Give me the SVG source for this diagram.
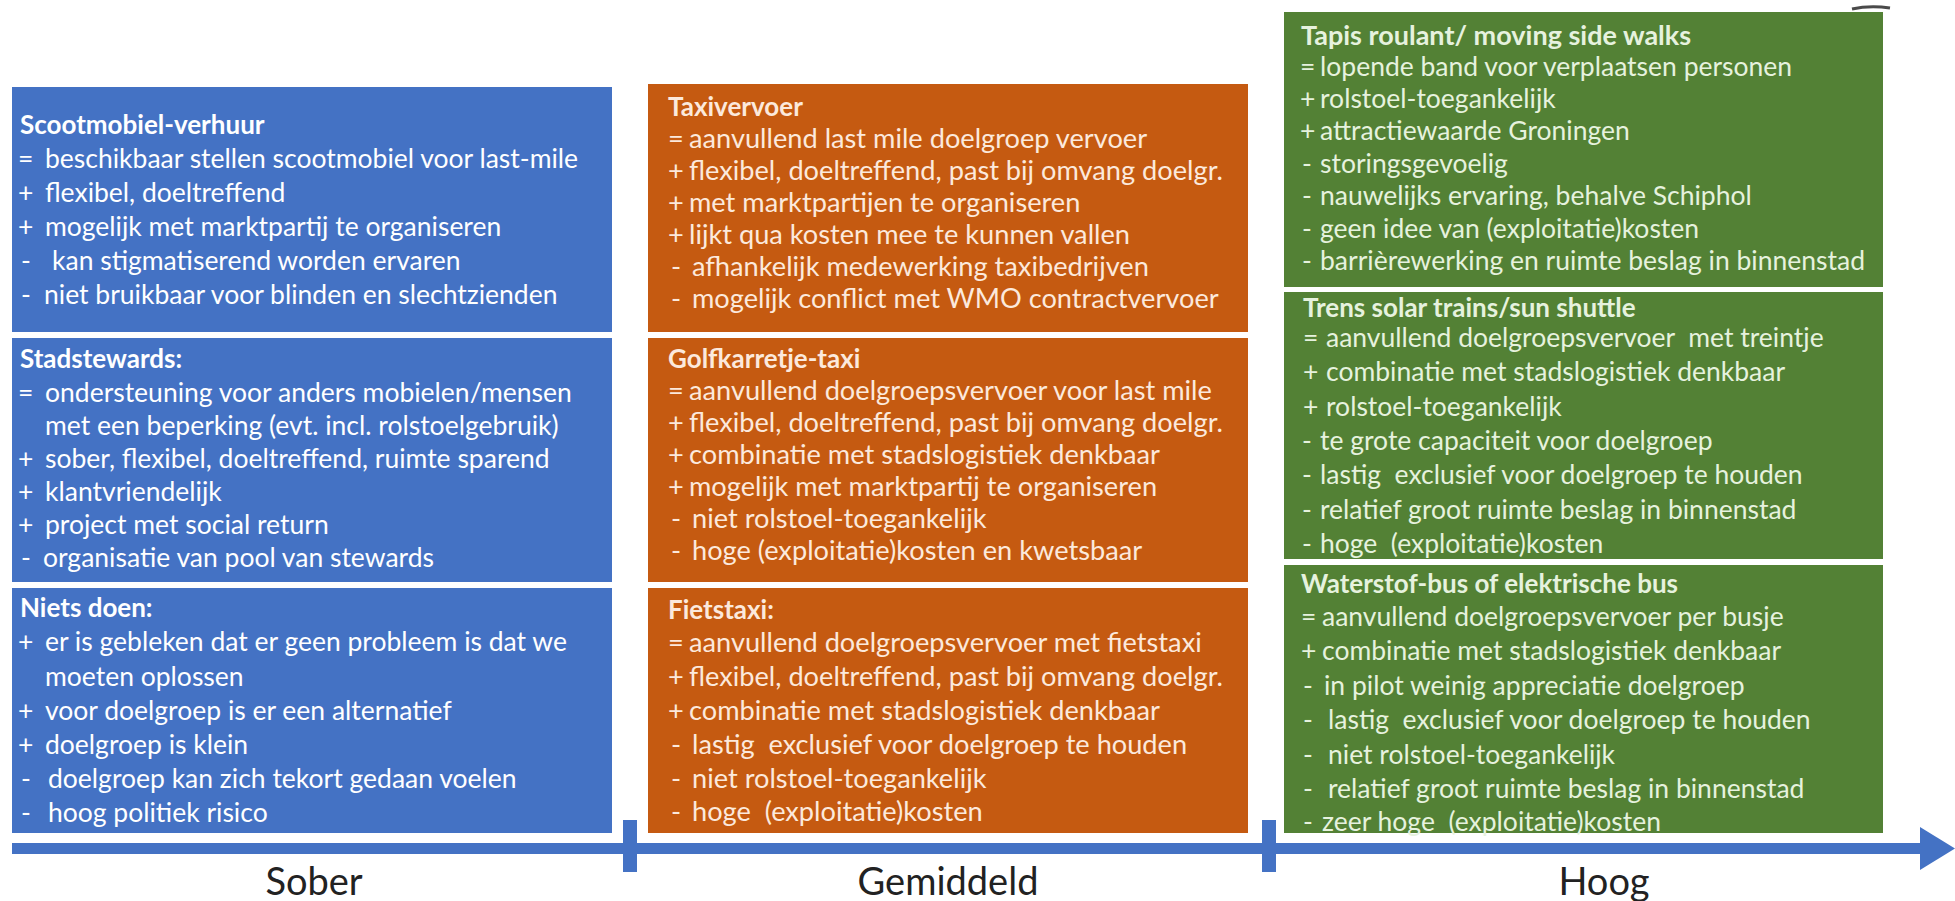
<svg xmlns="http://www.w3.org/2000/svg" width="1955" height="901" viewBox="0 0 1955 901">
<style>
  .bg{fill:#ffffff}
  .blue{fill:#4472C4}
  .orange{fill:#C55A11}
  .green{fill:#538135}
  text{font-family:Lato,"Liberation Sans",sans-serif;font-size:26.5px}
  .tb{fill:#ffffff}
  .to{fill:#FCE9DC;font-size:27.2px}
  .tg{fill:#E6F2DE}
  .g1{font-size:29px}
  .ti{font-weight:bold;font-size:26px}
  .g1 .ti{font-size:27px}
  .axis{fill:#4472C4}
  .lbl{font-family:Lato,"Liberation Sans",sans-serif;font-size:38px;fill:#222222;text-anchor:middle}
</style>
<rect class="bg" x="0" y="0" width="1955" height="901"/>

<g id="scootmobiel">
  <rect class="blue" x="12" y="87" width="600" height="245"/>
  <text class="tb"><tspan class="ti" x="20" y="134">Scootmobiel-verhuur</tspan></text>
  <text class="tb"><tspan x="18" y="168">=</tspan><tspan x="45" y="168">beschikbaar stellen scootmobiel voor last-mile</tspan></text>
  <text class="tb"><tspan x="18" y="202">+</tspan><tspan x="45" y="202">flexibel, doeltreffend</tspan></text>
  <text class="tb"><tspan x="18" y="236">+</tspan><tspan x="45" y="236">mogelijk met marktpartij te organiseren</tspan></text>
  <text class="tb"><tspan x="21" y="270">-</tspan><tspan x="52" y="270">kan stigmatiserend worden ervaren</tspan></text>
  <text class="tb"><tspan x="21" y="304">-</tspan><tspan x="44" y="304">niet bruikbaar voor blinden en slechtzienden</tspan></text>
</g>

<g id="stadstewards">
  <rect class="blue" x="12" y="338" width="600" height="244"/>
  <text class="tb"><tspan class="ti" x="20" y="368">Stadstewards:</tspan></text>
  <text class="tb"><tspan x="18" y="402">=</tspan><tspan x="45" y="402">ondersteuning voor anders mobielen/mensen</tspan></text>
  <text class="tb"><tspan x="45" y="435">met een beperking (evt. incl. rolstoelgebruik)</tspan></text>
  <text class="tb"><tspan x="18" y="468">+</tspan><tspan x="45" y="468">sober, flexibel, doeltreffend, ruimte sparend</tspan></text>
  <text class="tb"><tspan x="18" y="501">+</tspan><tspan x="45" y="501">klantvriendelijk</tspan></text>
  <text class="tb"><tspan x="18" y="534">+</tspan><tspan x="45" y="534">project met social return</tspan></text>
  <text class="tb"><tspan x="21" y="567">-</tspan><tspan x="43" y="567">organisatie van pool van stewards</tspan></text>
</g>

<g id="niets-doen">
  <rect class="blue" x="12" y="588" width="600" height="245"/>
  <text class="tb"><tspan class="ti" x="20" y="617">Niets doen:</tspan></text>
  <text class="tb"><tspan x="18" y="651">+</tspan><tspan x="45" y="651">er is gebleken dat er geen probleem is dat we</tspan></text>
  <text class="tb"><tspan x="45" y="686">moeten oplossen</tspan></text>
  <text class="tb"><tspan x="18" y="720">+</tspan><tspan x="45" y="720">voor doelgroep is er een alternatief</tspan></text>
  <text class="tb"><tspan x="18" y="754">+</tspan><tspan x="45" y="754">doelgroep is klein</tspan></text>
  <text class="tb"><tspan x="21" y="788">-</tspan><tspan x="48" y="788">doelgroep kan zich tekort gedaan voelen</tspan></text>
  <text class="tb"><tspan x="21" y="822">-</tspan><tspan x="48" y="822">hoog politiek risico</tspan></text>
</g>

<g id="taxivervoer">
  <rect class="orange" x="648" y="84" width="600" height="248"/>
  <text class="to"><tspan class="ti" x="668" y="116">Taxivervoer</tspan></text>
  <text class="to"><tspan x="668" y="148">=</tspan><tspan x="689" y="148">aanvullend last mile doelgroep vervoer</tspan></text>
  <text class="to"><tspan x="668" y="180">+</tspan><tspan x="689" y="180">flexibel, doeltreffend, past bij omvang doelgr.</tspan></text>
  <text class="to"><tspan x="668" y="212">+</tspan><tspan x="689" y="212">met marktpartijen te organiseren</tspan></text>
  <text class="to"><tspan x="668" y="244">+</tspan><tspan x="689" y="244">lijkt qua kosten mee te kunnen vallen</tspan></text>
  <text class="to"><tspan x="671" y="276">-</tspan><tspan x="692" y="276">afhankelijk medewerking taxibedrijven</tspan></text>
  <text class="to"><tspan x="671" y="308">-</tspan><tspan x="692" y="308">mogelijk conflict met WMO contractvervoer</tspan></text>
</g>

<g id="golfkarretje">
  <rect class="orange" x="648" y="338" width="600" height="244"/>
  <text class="to"><tspan class="ti" x="668" y="368">Golfkarretje-taxi</tspan></text>
  <text class="to"><tspan x="668" y="400">=</tspan><tspan x="689" y="400">aanvullend doelgroepsvervoer voor last mile</tspan></text>
  <text class="to"><tspan x="668" y="432">+</tspan><tspan x="689" y="432">flexibel, doeltreffend, past bij omvang doelgr.</tspan></text>
  <text class="to"><tspan x="668" y="464">+</tspan><tspan x="689" y="464">combinatie met stadslogistiek denkbaar</tspan></text>
  <text class="to"><tspan x="668" y="496">+</tspan><tspan x="689" y="496">mogelijk met marktpartij te organiseren</tspan></text>
  <text class="to"><tspan x="671" y="528">-</tspan><tspan x="692" y="528">niet rolstoel-toegankelijk</tspan></text>
  <text class="to"><tspan x="671" y="560">-</tspan><tspan x="692" y="560">hoge (exploitatie)kosten en kwetsbaar</tspan></text>
</g>

<g id="fietstaxi">
  <rect class="orange" x="648" y="588" width="600" height="245"/>
  <text class="to"><tspan class="ti" x="668" y="619">Fietstaxi:</tspan></text>
  <text class="to"><tspan x="668" y="652">=</tspan><tspan x="689" y="652">aanvullend doelgroepsvervoer met fietstaxi</tspan></text>
  <text class="to"><tspan x="668" y="686">+</tspan><tspan x="689" y="686">flexibel, doeltreffend, past bij omvang doelgr.</tspan></text>
  <text class="to"><tspan x="668" y="720">+</tspan><tspan x="689" y="720">combinatie met stadslogistiek denkbaar</tspan></text>
  <text class="to"><tspan x="671" y="754">-</tspan><tspan x="692" y="754">lastig&#160; exclusief voor doelgroep te houden</tspan></text>
  <text class="to"><tspan x="671" y="788">-</tspan><tspan x="692" y="788">niet rolstoel-toegankelijk</tspan></text>
  <text class="to"><tspan x="671" y="821">-</tspan><tspan x="692" y="821">hoge&#160; (exploitatie)kosten</tspan></text>
</g>

<g id="tapis-roulant">
  <rect class="green" x="1284" y="12" width="599" height="275"/>
  <g class="g1">
  <text class="tg"><tspan class="ti" x="1301" y="45">Tapis roulant/ moving side walks</tspan></text>
  <text class="tg"><tspan x="1300" y="76">=</tspan><tspan x="1320" y="76">lopende band voor verplaatsen personen</tspan></text>
  <text class="tg"><tspan x="1300" y="108">+</tspan><tspan x="1320" y="108">rolstoel-toegankelijk</tspan></text>
  <text class="tg"><tspan x="1300" y="140">+</tspan><tspan x="1320" y="140">attractiewaarde Groningen</tspan></text>
  <text class="tg"><tspan x="1302" y="173">-</tspan><tspan x="1320" y="173">storingsgevoelig</tspan></text>
  <text class="tg"><tspan x="1302" y="205">-</tspan><tspan x="1320" y="205">nauwelijks ervaring, behalve Schiphol</tspan></text>
  <text class="tg"><tspan x="1302" y="238">-</tspan><tspan x="1320" y="238">geen idee van (exploitatie)kosten</tspan></text>
  <text class="tg"><tspan x="1302" y="270">-</tspan><tspan x="1320" y="270">barrièrewerking en ruimte beslag in binnenstad</tspan></text>
  </g>
</g>

<g id="trens-solar">
  <rect class="green" x="1284" y="292" width="599" height="267"/>
  <text class="tg"><tspan class="ti" x="1303" y="317">Trens solar trains/sun shuttle</tspan></text>
  <text class="tg"><tspan x="1303" y="347">=</tspan><tspan x="1326" y="347">aanvullend doelgroepsvervoer&#160; met treintje</tspan></text>
  <text class="tg"><tspan x="1303" y="381">+</tspan><tspan x="1326" y="381">combinatie met stadslogistiek denkbaar</tspan></text>
  <text class="tg"><tspan x="1303" y="416">+</tspan><tspan x="1326" y="416">rolstoel-toegankelijk</tspan></text>
  <text class="tg"><tspan x="1302" y="450">-</tspan><tspan x="1320" y="450">te grote capaciteit voor doelgroep</tspan></text>
  <text class="tg"><tspan x="1302" y="484">-</tspan><tspan x="1320" y="484">lastig&#160; exclusief voor doelgroep te houden</tspan></text>
  <text class="tg"><tspan x="1302" y="519">-</tspan><tspan x="1320" y="519">relatief groot ruimte beslag in binnenstad</tspan></text>
  <text class="tg"><tspan x="1302" y="553">-</tspan><tspan x="1320" y="553">hoge&#160; (exploitatie)kosten</tspan></text>
</g>

<g id="waterstof-bus">
  <rect class="green" x="1284" y="565" width="599" height="268"/>
  <text class="tg"><tspan class="ti" x="1301" y="593">Waterstof-bus of elektrische bus</tspan></text>
  <text class="tg"><tspan x="1301" y="626">=</tspan><tspan x="1322" y="626">aanvullend doelgroepsvervoer per busje</tspan></text>
  <text class="tg"><tspan x="1301" y="660">+</tspan><tspan x="1322" y="660">combinatie met stadslogistiek denkbaar</tspan></text>
  <text class="tg"><tspan x="1303" y="695">-</tspan><tspan x="1324" y="695">in pilot weinig appreciatie doelgroep</tspan></text>
  <text class="tg"><tspan x="1303" y="729">-</tspan><tspan x="1328" y="729">lastig&#160; exclusief voor doelgroep te houden</tspan></text>
  <text class="tg"><tspan x="1303" y="764">-</tspan><tspan x="1328" y="764">niet rolstoel-toegankelijk</tspan></text>
  <text class="tg"><tspan x="1303" y="798">-</tspan><tspan x="1328" y="798">relatief groot ruimte beslag in binnenstad</tspan></text>
  <text class="tg"><tspan x="1303" y="831">-</tspan><tspan x="1322" y="831">zeer hoge&#160; (exploitatie)kosten</tspan></text>
</g>

<g id="connectors">
  <rect class="axis" x="12" y="843" width="1912" height="11"/>
  <polygon class="axis" points="1920,827 1955,848.5 1920,870"/>
  <rect class="axis" x="623" y="820" width="14" height="52"/>
  <rect class="axis" x="1262" y="820" width="14" height="52"/>
  <path d="M1852,9 Q1870,5 1890,8" fill="none" stroke="#4a4a4a" stroke-width="3"/>
</g>

<g id="labels">
  <text class="lbl" x="314" y="895">Sober</text>
  <text class="lbl" x="948" y="895">Gemiddeld</text>
  <text class="lbl" x="1604" y="895">Hoog</text>
</g>
</svg>
